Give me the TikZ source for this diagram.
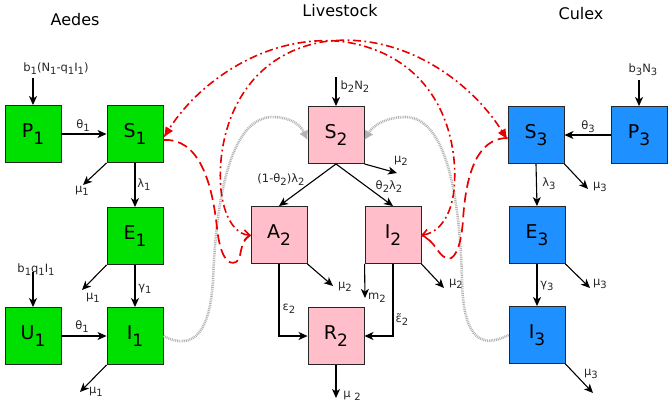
\documentclass[tikz,border=0pt]{standalone}
\usepackage{fontspec}
\setmainfont{DejaVu Sans}
\usetikzlibrary{arrows.meta}
\definecolor{aedgreen}{RGB}{0,224,0}
\definecolor{livpink}{RGB}{255,190,202}
\definecolor{culblue}{RGB}{30,144,255}
\definecolor{linkred}{RGB}{230,0,0}
\newcommand{\dn}[1]{\raisebox{-3pt}{\fontsize{10}{10}\selectfont #1}}
\newcommand{\bxl}[2]{#1\raisebox{-7pt}{\fontsize{17}{17}\selectfont #2}}
\tikzset{
  box/.style={draw=black!85, line width=0.9pt, minimum width=56pt, minimum height=57pt, inner sep=0pt, font=\fontsize{19}{19}\selectfont},
  aedbox/.style={box, fill=aedgreen},
  livbox/.style={box, fill=livpink},
  culbox/.style={box, fill=culblue},
  flow/.style={-{Stealth[length=9pt,width=8pt,inset=2.5pt]}, line width=1.1pt, black},
  lbl/.style={font=\fontsize{11.5}{11.5}\selectfont, inner sep=0pt, text=black!85},
  ttl/.style={font=\fontsize{16}{16}\selectfont, inner sep=0pt},
  graylink/.style={draw=black!30, line width=2.6pt, dash pattern=on 0.9pt off 0.9pt, -{Latex[length=9pt,width=10pt]}},
  reddot/.style={draw=linkred, line width=1.6pt, dash pattern=on 8pt off 3.5pt on 1.8pt off 3.5pt},
  redlong/.style={draw=linkred, line width=1.7pt, dash pattern=on 10pt off 5pt},
  redarrows/.style={{Straight Barb[length=5pt,width=10pt]}-{Latex[length=11pt,width=9pt]}}
}
\begin{document}
\begin{tikzpicture}[x=1pt,y=-1pt]
\useasboundingbox (0,0) rectangle (672,408);

% titles
\node[ttl] (tA) at (75,20) {Aedes};
\node[ttl] (tL) at (340,11) {Livestock};
\node[ttl] (tC) at (581,14) {Culex};

% boxes
\node[aedbox] (P1) at (33,134) {\bxl{P}{1}};
\node[aedbox] (S1) at (135,134) {\bxl{S}{1}};
\node[aedbox] (E1) at (135,236) {\bxl{E}{1}};
\node[aedbox] (U1) at (33,336) {\bxl{U}{1}};
\node[aedbox] (I1) at (135,336) {\bxl{I}{1}};

\node[livbox] (S2) at (336,135) {\bxl{S}{2}};
\node[livbox] (A2) at (279,235) {\bxl{A}{2}};
\node[livbox] (I2) at (393,235) {\bxl{I}{2}};
\node[livbox] (R2) at (336,336) {\bxl{R}{2}};

\node[culbox] (S3) at (536,135) {\bxl{S}{3}};
\node[culbox] (P3) at (639,135) {\bxl{P}{3}};
\node[culbox] (E3) at (537,235) {\bxl{E}{3}};
\node[culbox] (I3) at (537,335) {\bxl{I}{3}};

% free ends
\coordinate (inP1) at (33,78);
\coordinate (inU1) at (33,272);
\coordinate (inS2) at (336,77);
\coordinate (inP3) at (639,80);
\coordinate (mS1) at (83,185);
\coordinate (mE1) at (82,290);
\coordinate (mI1) at (80,392);
\coordinate (mS2) at (397,173);
\coordinate (mA2) at (333,286);
\coordinate (dI2) at (365,298);
\coordinate (mI2) at (444,288);
\coordinate (mR2) at (336,398);
\coordinate (mS3) at (588,189);
\coordinate (mE3) at (590,288);
\coordinate (mI3) at (593,393);

% Aedes flows
\draw[flow] (inP1) -- (P1.north);
\draw[flow] (P1) -- (S1);
\draw[flow] (S1.south west) -- (mS1);
\draw[flow] (S1) -- (E1);
\draw[flow] (E1.south west) -- (mE1);
\draw[flow] (E1) -- (I1);
\draw[flow] (inU1) -- (U1.north);
\draw[flow] (U1) -- (I1);
\draw[flow] (I1.south west) -- (mI1);

\node[lbl] (lbP1) at (56,69) {b\dn{1}(N\dn{1}-q\dn{1}I\dn{1})};
\node[lbl] (lthA) at (83,126) {θ\dn{1}};
\node[lbl] (lmS1) at (82,191) {μ\dn{1}};
\node[lbl] (llam1) at (144,185) {λ\dn{1}};
\node[lbl] (lmE1) at (93,298) {μ\dn{1}};
\node[lbl] (lgam1) at (145,289) {γ\dn{1}};
\node[lbl] (lbU1) at (36,270) {b\dn{1}q\dn{1}I\dn{1}};
\node[lbl] (lthB) at (82,327) {θ\dn{1}};
\node[lbl] (lmI1) at (96,392) {μ\dn{1}};

% Livestock flows
\draw[flow] (inS2) -- (S2.north);
\draw[flow] (S2.south east) -- (mS2);
\draw[flow] (S2.south) -- (A2.north);
\draw[flow] (S2.south) -- (I2.north);
\draw[flow] (A2.south east) -- (mA2);
\draw[flow] (A2.south) |- (R2.west);
\draw[flow] (I2.south west) -- (dI2);
\draw[flow] (I2.south) |- (R2.east);
\draw[flow] (I2.south east) -- (mI2);
\draw[flow] (R2.south) -- (mR2);

\node[lbl] (lbS2) at (355,87) {b\dn{2}N\dn{2}};
\node[lbl] (lmS2) at (401,161) {μ\dn{2}};
\node[lbl] (lA2in) at (281,180) {(1-θ\dn{2})λ\dn{2}};
\node[lbl] (lI2in) at (389,187) {θ\dn{2}λ\dn{2}};
\node[lbl] (lmA2) at (345,287) {μ\dn{2}};
\node[lbl] (leps) at (289,309) {ε\dn{2}};
\node[lbl] (ldI2) at (377,298) {m\dn{2}};
\node[lbl] (lepst) at (402,320) {ε̃\dn{2}};
\node[lbl] (lmI2) at (456,284) {μ\dn{2}};
\node[lbl] (lmR2) at (352,396) {μ \dn{2}};

% Culex flows
\draw[flow] (inP3) -- (P3.north);
\draw[flow] (P3) -- (S3);
\draw[flow] (S3.south east) -- (mS3);
\draw[flow] (S3.south) -- (E3.north);
\draw[flow] (E3.south east) -- (mE3);
\draw[flow] (E3.south) -- (I3.north);
\draw[flow] (I3.south east) -- (mI3);

\node[lbl] (lbP3) at (643,70) {b\dn{3}N\dn{3}};
\node[lbl] (lth3) at (588,127) {θ\dn{3}};
\node[lbl] (llam3) at (549,184) {λ\dn{3}};
\node[lbl] (lmS3) at (600,187) {μ\dn{3}};
\node[lbl] (lgam3) at (547,286) {γ\dn{3}};
\node[lbl] (lmE3) at (600,284) {μ\dn{3}};
\node[lbl] (lmI3) at (591,374) {μ\dn{3}};

% gray dotted links (mosquitoes -> livestock)
\draw[graylink] (I1.east) .. controls (195,352) and (210,330) .. (213,280)
  .. controls (216,200) and (230,118) .. (272,117)
  .. controls (290,117) and (300,124) .. ([yshift=-5pt]S2.west);
\draw[graylink] (I3.west) .. controls (476,352) and (463,330) .. (462,280)
  .. controls (460,200) and (447,118) .. (406,117)
  .. controls (388,117) and (374,124) .. ([yshift=-5pt]S2.east);

% red links (livestock -> mosquitoes)
\draw[reddot, redarrows] (A2.west) .. controls (240,235) and (225,225) .. (221,190)
  .. controls (216,140) and (236,58) .. (322,42)
  .. controls (400,30) and (470,80) .. ([yshift=-5pt]S3.west);
\draw[reddot, redarrows] (I2.east) .. controls (432,234) and (450,225) .. (454,190)
  .. controls (459,140) and (440,58) .. (346,42)
  .. controls (270,32) and (200,80) .. ([yshift=-4pt]S1.east);
\draw[redlong] ([yshift=-6pt]S1.east) .. controls (198,138) and (212,180) .. (217,228)
  .. controls (220,256) and (228,266) .. (236,262)
  .. controls (243,258) and (238,242) .. (A2.west);
\draw[redlong] ([yshift=-3pt]S3.west) .. controls (478,138) and (466,172) .. (463,220)
  .. controls (461,250) and (453,262) .. (446,258)
  .. controls (437,254) and (436,242) .. (I2.east);
\end{tikzpicture}
\end{document}
